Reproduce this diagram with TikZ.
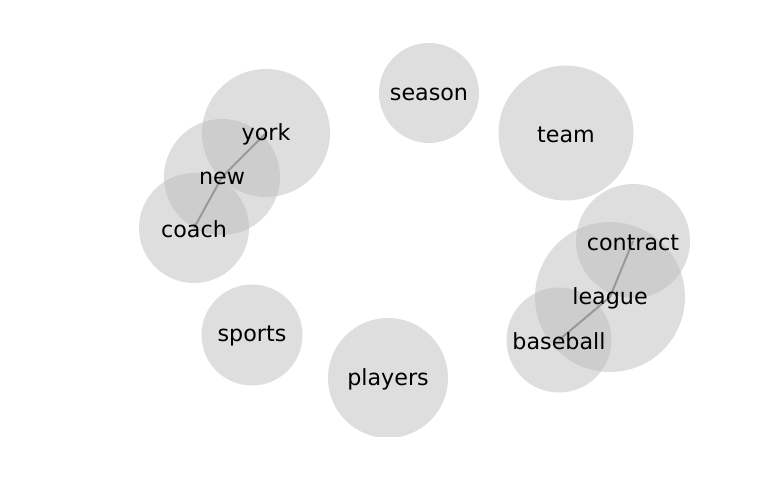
\documentclass[tikz,border=0pt]{standalone}
\usepackage{fontspec}
\setmainfont{DejaVu Sans}
\usepackage{tikz}

\tikzset{
  bubble/.style={circle, fill=black!26, fill opacity=0.5, inner sep=0pt},
  word/.style={font=\fontsize{22.3}{26}\selectfont, text=black, yshift=-1.5bp},
  link/.style={draw=black!40, line width=2bp}
}

\begin{document}
\begin{tikzpicture}[x=1bp,y=-1bp]
\useasboundingbox (0,0) rectangle (768,500);

\begin{scope}
\clip (0,0) rectangle (768,436);
\node at (429,93)  (season)   [bubble, minimum size=100bp] {};
\node at (566,133) (team)     [bubble, minimum size=135bp] {};
\node at (266,133) (york)     [bubble, minimum size=128bp] {};
\node at (222,177) (new)      [bubble, minimum size=116bp] {};
\node at (194,228) (coach)    [bubble, minimum size=110bp] {};
\node at (252,335) (sports)   [bubble, minimum size=101bp] {};
\node at (388,378) (players)  [bubble, minimum size=120bp] {};
\node at (633,241) (contract) [bubble, minimum size=114bp] {};
\node at (610,297) (league)   [bubble, minimum size=150bp] {};
\node at (559,340) (baseball) [bubble, minimum size=105bp] {};
\end{scope}

% links
\draw[link] (york.center) -- (new.center) -- (coach.center);
\draw[link] (contract.center) -- (league.center) -- (baseball.center);

% words
\foreach \w in {season,team,york,new,coach,sports,players,contract,league,baseball}
  \node[word] at (\w) {\w};
\end{tikzpicture}
\end{document}
